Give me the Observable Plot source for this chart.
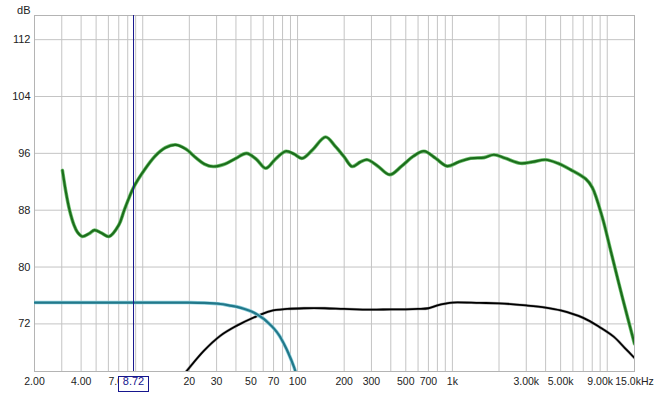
<!DOCTYPE html>
<html><head><meta charset="utf-8">
<script src="https://cdn.jsdelivr.net/npm/d3@7"></script>
<script src="https://cdn.jsdelivr.net/npm/@observablehq/plot@0.6"></script>
<style>
html,body{margin:0;padding:0;background:#fff;}
#chart{width:668px;height:393px;}
</style></head><body><div id="chart"></div>
<script>
// ---- data ----
const greenFreq = [3.03, 3.2, 3.37, 3.6, 3.79, 4.08, 4.5, 4.88, 5.4, 6.06, 7.0, 7.6, 8.72, 10.2, 12, 14, 16.3, 19, 22, 25, 28.5, 34, 40, 46.8, 54, 62.4, 72, 84, 95, 107, 125, 151.7, 175, 200, 225, 255, 282, 330, 394, 470, 560, 655, 780, 927, 1100, 1312, 1600, 1854, 2200, 2760, 3300, 4000, 4800, 5800, 7260, 8000, 9290, 10530, 12500, 15000];
const greenDb   = [93.6, 90.4, 88.0, 85.9, 84.9, 84.3, 84.7, 85.2, 84.8, 84.3, 85.9, 88.0, 91.2, 93.6, 95.6, 96.8, 97.2, 96.6, 95.4, 94.5, 94.15, 94.5, 95.3, 96.0, 95.2, 93.9, 95.2, 96.3, 95.9, 95.3, 96.5, 98.3, 97.0, 95.5, 94.15, 94.8, 95.1, 94.2, 93.0, 94.2, 95.6, 96.3, 95.3, 94.2, 94.8, 95.3, 95.4, 95.8, 95.3, 94.6, 94.8, 95.1, 94.6, 93.7, 92.4, 91.2, 87.0, 82.3, 75.8, 69.2];

const tealFreq = [2, 5, 10, 15, 20, 25, 31.8, 36, 40.6, 46, 52.1, 56, 60.5, 65, 70.7, 76, 81.6, 88, 94.9, 100];
const tealDb   = [75.0, 75.0, 75.0, 75.0, 75.0, 74.95, 74.8, 74.6, 74.4, 74.05, 73.6, 73.2, 72.7, 72.1, 71.3, 70.4, 69.2, 67.7, 65.9, 64.3];

const blackFreq = [16.5, 19.1, 24.8, 31.8, 40.6, 52.1, 66.7, 85.8, 110, 150, 200, 300, 400, 500, 600, 700, 800, 900, 1000, 1500, 2000, 3000, 4000, 5000, 7000, 9000, 11000, 13000, 15000];
const blackDb   = [63.6, 65.3, 68.2, 70.35, 71.76, 72.9, 73.8, 74.1, 74.2, 74.2, 74.1, 74.0, 74.05, 74.05, 74.1, 74.2, 74.6, 74.85, 75.0, 74.95, 74.9, 74.6, 74.3, 73.9, 72.85, 71.5, 70.2, 68.6, 67.2];

const xGrid = [3, 4, 5, 6, 7, 8, 9, 10, 20, 30, 40, 50, 60, 70, 80, 90, 100, 200, 300, 400, 500, 600, 700, 800, 900, 1000, 2000, 3000, 4000, 5000, 6000, 7000, 8000, 9000, 10000];
const xTicks = [2, 4, 7, 10, 20, 30, 50, 70, 100, 200, 300, 500, 700, 1000, 3000, 5000, 9000, 15000];
const xTickLabels = ["2.00", "4.00", "7.00", "10", "20", "30", "50", "70", "100", "200", "300", "500", "700", "1k", "3.00k", "5.00k", "9.00k", "15.0kHz"];
const yTicks = [72, 80, 88, 96, 104, 112];
const yUnit = "dB";
const cursorFreq = 8.72;
const cursorLabel = "8.72";

// ---- build ----
const toRows = (f, v) => f.map((d, i) => ({f: d, db: v[i]}));
const green = toRows(greenFreq, greenDb);
const teal = toRows(tealFreq, tealDb);
const black = toRows(blackFreq, blackDb);
const tickRows = xTicks.map((t, i) => ({f: t, label: xTickLabels[i]}));

const lineOpts = {x: "f", y: "db", curve: "catmull-rom", clip: true};
const LABEL_DY = 13.5;

const chart = Plot.plot({
  width: 668, height: 393,
  marginLeft: 34, marginRight: 34, marginTop: 15, marginBottom: 22,
  style: {fontFamily: "Arial, 'Liberation Sans', sans-serif", fontSize: "11px", color: "#222", background: "#fff"},
  x: {type: "log", domain: [2, 15000], axis: null},
  y: {domain: [65.3, 115.4], axis: null},
  marks: [
    Plot.ruleX(xGrid, {stroke: "#c4c4c4"}),
    Plot.ruleY(yTicks, {stroke: "#c4c4c4"}),
    Plot.frame({stroke: "#b4b4b4"}),
    Plot.text(tickRows, {x: "f", text: "label", frameAnchor: "bottom", dy: LABEL_DY, fill: "#222", fontSize: 10.5}),
    Plot.text(yTicks, {y: d => d, text: d => String(d), frameAnchor: "left", textAnchor: "end", dx: -4, fill: "#222"}),
    Plot.text([yUnit], {frameAnchor: "top-left", textAnchor: "end", dx: -4, dy: -9, fill: "#222"}),
    Plot.line(black, {...lineOpts, stroke: "#555", strokeWidth: 2.8, strokeOpacity: 0.5}),
    Plot.line(black, {...lineOpts, stroke: "#000", strokeWidth: 1.8}),
    Plot.line(teal, {...lineOpts, stroke: "#8fd0dc", strokeWidth: 3.6}),
    Plot.line(teal, {...lineOpts, stroke: "#22788a", strokeWidth: 2.2}),
    Plot.line(green, {...lineOpts, stroke: "#74c474", strokeWidth: 3.6}),
    Plot.line(green, {...lineOpts, stroke: "#1c6e1c", strokeWidth: 2.2}),
    Plot.ruleX([cursorFreq], {stroke: "#16168e", strokeWidth: 1}),
    Plot.text([cursorFreq], {
      x: d => d, text: () => cursorLabel, frameAnchor: "bottom", dy: LABEL_DY,
      fill: "#16168e", fontSize: 11,
      render(index, scales, values, dimensions, context, next) {
        const g = next(index, scales, values, dimensions, context);
        const cx = scales.x(cursorFreq);
        // g is translated by dy; place the box relative to the frame bottom
        const top = dimensions.height - dimensions.marginBottom + 5 - LABEL_DY;
        const r = document.createElementNS("http://www.w3.org/2000/svg", "rect");
        r.setAttribute("x", Math.round(cx - 15));
        r.setAttribute("y", top);
        r.setAttribute("width", 30);
        r.setAttribute("height", 15);
        r.setAttribute("fill", "#fff");
        r.setAttribute("stroke", "#16168e");
        g.insertBefore(r, g.firstChild);
        return g;
      }
    })
  ]
});
document.getElementById("chart").appendChild(chart);
</script>
</body></html>
